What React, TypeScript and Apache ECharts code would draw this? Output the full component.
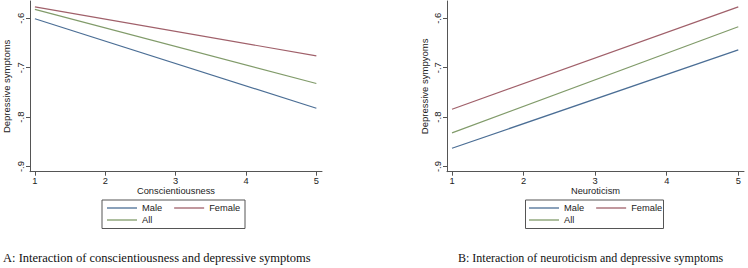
import React, { useEffect, useRef } from "react";
import * as echarts from "echarts";

const X_VALUES = [1, 5];
const X_TICKS = [1, 2, 3, 4, 5];
const Y_TICKS = [-0.9, -0.8, -0.7, -0.6];

const consMale = [-0.601, -0.782];
const consFemale = [-0.577, -0.676];
const consAll = [-0.582, -0.732];

const neurMale = [-0.863, -0.664];
const neurFemale = [-0.784, -0.577];
const neurAll = [-0.832, -0.617];

const SERIES_NAMES = ["Male", "Female", "All"];
const COLORS = ["#4b6e95", "#a0606a", "#819b6a"];

const CAPTION_A = "A: Interaction of conscientiousness and depressive symptoms";
const CAPTION_B = "B: Interaction of neuroticism and depressive symptoms";

const SANS = "Liberation Sans, Arial, sans-serif";
const SERIF = "Liberation Serif, Times New Roman, serif";
const AXIS_COLOR = "#555";
const TEXT_COLOR = "#222";

function pairs(ys: number[]) {
  return X_VALUES.map((x, i) => [x, ys[i]]);
}

function xAxis(gridIndex: number, name: string) {
  return {
    type: "value",
    gridIndex,
    min: 0.93,
    max: 5.08,
    name,
    nameLocation: "middle",
    nameGap: 14.5,
    nameMoveOverlap: false,
    nameTextStyle: { fontFamily: SANS, fontSize: 9.3, lineHeight: 10, color: TEXT_COLOR },
    axisLine: { show: true, onZero: false, lineStyle: { color: AXIS_COLOR, width: 1 } },
    axisTick: { show: true, length: 4, customValues: X_TICKS, lineStyle: { color: AXIS_COLOR } },
    axisLabel: {
      customValues: X_TICKS,
      margin: 4,
      fontFamily: SANS,
      fontSize: 9.3,
      lineHeight: 10,
      color: TEXT_COLOR,
    },
    splitLine: { show: false },
  };
}

function yAxis(gridIndex: number, name: string, nameGap: number) {
  return {
    type: "value",
    gridIndex,
    min: -0.9105,
    max: -0.565,
    name,
    nameLocation: "middle",
    nameGap,
    nameRotate: 90,
    nameMoveOverlap: false,
    nameTextStyle: { fontFamily: SANS, fontSize: 9.5, lineHeight: 10, color: TEXT_COLOR },
    axisLine: { show: true, onZero: false, lineStyle: { color: AXIS_COLOR, width: 1 } },
    axisTick: { show: true, length: 4, customValues: Y_TICKS, lineStyle: { color: AXIS_COLOR } },
    axisLabel: {
      customValues: Y_TICKS,
      rotate: 90,
      margin: 5,
      fontFamily: SANS,
      fontSize: 9.5,
      lineHeight: 10,
      color: TEXT_COLOR,
      formatter: (v: number) => v.toFixed(1).replace("0.", "."),
    },
    splitLine: { show: false },
  };
}

function lineSeries(name: string, color: string, ys: number[], idx: number) {
  return {
    type: "line",
    name,
    xAxisIndex: idx,
    yAxisIndex: idx,
    data: pairs(ys),
    symbol: "none",
    color,
    lineStyle: { color, width: 1.2 },
  };
}

function legend(left: number, top: number, data: string[]) {
  return {
    left,
    top,
    orient: "horizontal",
    padding: 0,
    itemGap: 12,
    itemWidth: 30,
    itemHeight: 1.3,
    icon: "rect",
    data,
    textStyle: { fontFamily: SANS, fontSize: 9.3, lineHeight: 10, color: TEXT_COLOR },
  };
}

export default function App() {
  const ref = useRef<HTMLDivElement>(null);
  useEffect(() => {
    document.body.style.margin = "0";
    const chart = echarts.init(ref.current!, null, { renderer: "svg" });
    const leftSets = [consMale, consFemale, consAll];
    const rightSets = [neurMale, neurFemale, neurAll];
    chart.setOption({
      animation: false,
      backgroundColor: "#ffffff",
      grid: [
        { left: 26, top: 1, width: 296, height: 170.7 },
        { left: 447, top: 1, width: 297, height: 170.7 },
      ],
      xAxis: [xAxis(0, "Conscientiousness"), xAxis(1, "Neuroticism")],
      yAxis: [yAxis(0, "Depressive symptoms", 19), yAxis(1, "Depressive sympyoms", 17.5)],
      legend: [
        legend(107, 203, ["Male", "Female"]),
        legend(107, 215, ["All"]),
        legend(529, 203, ["Male", "Female"]),
        legend(529, 215, ["All"]),
      ],
      series: [
        ...SERIES_NAMES.map((n, i) => lineSeries(n, COLORS[i], leftSets[i], 0)),
        ...SERIES_NAMES.map((n, i) => lineSeries(n, COLORS[i], rightSets[i], 1)),
      ],
      graphic: [
        {
          type: "rect",
          shape: { x: 102, y: 200, width: 143, height: 28.5 },
          style: { fill: "none", stroke: AXIS_COLOR, lineWidth: 1 },
          silent: true,
        },
        {
          type: "rect",
          shape: { x: 525.5, y: 200, width: 138, height: 28.5 },
          style: { fill: "none", stroke: AXIS_COLOR, lineWidth: 1 },
          silent: true,
        },
        {
          type: "text",
          x: 3,
          y: 258,
          style: {
            text: CAPTION_A,
            fontFamily: SERIF,
            fontSize: 12.5,
            fill: "#111",
            verticalAlign: "middle",
          },
        },
        {
          type: "text",
          x: 458,
          y: 258,
          style: {
            text: CAPTION_B,
            fontFamily: SERIF,
            fontSize: 12,
            fill: "#111",
            verticalAlign: "middle",
          },
        },
      ],
    });
    return () => chart.dispose();
  }, []);
  return (
    <div
      ref={ref}
      style={{ width: 748, height: 268, position: "absolute", left: 0, top: 0 }}
    />
  );
}
